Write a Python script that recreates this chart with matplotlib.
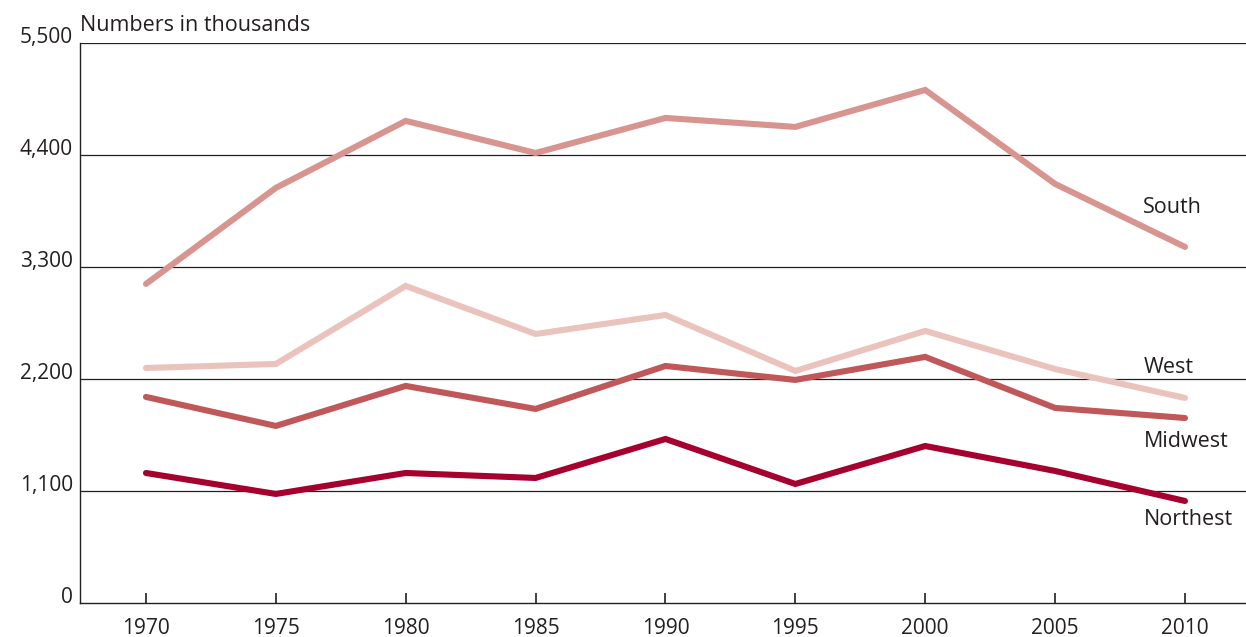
import matplotlib.pyplot as plt

years = [1970, 1975, 1980, 1985, 1990, 1995, 2000, 2005, 2010]

south = [3134, 4077, 4735, 4420, 4764, 4676, 5039, 4116, 3497]
west = [2308, 2348, 3114, 2642, 2829, 2279, 2672, 2298, 2014]
midwest = [2024, 1739, 2132, 1906, 2328, 2191, 2417, 1916, 1817]
northeast = [1277, 1071, 1277, 1228, 1611, 1169, 1542, 1297, 1002]

y_ticks = [0, 1100, 2200, 3300, 4400, 5500]
y_labels = ["0", "1,100", "2,200", "3,300", "4,400", "5,500"]

series = [
    ("South", south, "#d8948f", 3880),
    ("West", west, "#ebc3bd", 2310),
    ("Midwest", midwest, "#c0585a", 1585),
    ("Northest", northeast, "#a6002e", 820),
]

plt.rcParams['font.family'] = ['Open Sans', 'DejaVu Sans']
txt = "#231f20"

fig = plt.figure(figsize=(12.46, 6.37), dpi=100)
ax = fig.add_axes([80 / 1246, 1 - 603 / 637, 1166 / 1246, 560 / 637])

for nombre, valores, color, ylab in series:
    ax.plot(years, valores, color=color, linewidth=4.4, solid_capstyle='round',
            solid_joinstyle='miter', zorder=3)
    ax.text(2008.4, ylab, nombre, fontsize=15.5, color=txt, va='center', ha='left')

ax.set_xlim(1967.46, 2012.35)
ax.set_ylim(0, 5500)

for yv in y_ticks[1:]:
    ax.axhline(yv, color="#231f20", linewidth=0.9, zorder=1)

ax.set_yticks(y_ticks)
ax.set_yticklabels([])
for yv, lab in zip(y_ticks, y_labels):
    ax.text(-0.006, yv, lab, transform=ax.get_yaxis_transform(), ha='right',
            va='baseline', fontsize=15, color=txt)
ax.tick_params(axis='y', length=0)

ax.set_xticks(years)
ax.set_xticklabels([str(y) for y in years], fontsize=15, color=txt)
ax.tick_params(axis='x', direction='in', length=7, width=1.2, color=txt, pad=11)

for s in ['top', 'right']:
    ax.spines[s].set_visible(False)
for s in ['left', 'bottom']:
    ax.spines[s].set_color(txt)
    ax.spines[s].set_linewidth(1.0)

ax.text(0, 1 + 12 / 560, "Numbers in thousands", transform=ax.transAxes,
        fontsize=15.5, color=txt, ha='left', va='baseline')

fig.savefig("out.png", dpi=100)
